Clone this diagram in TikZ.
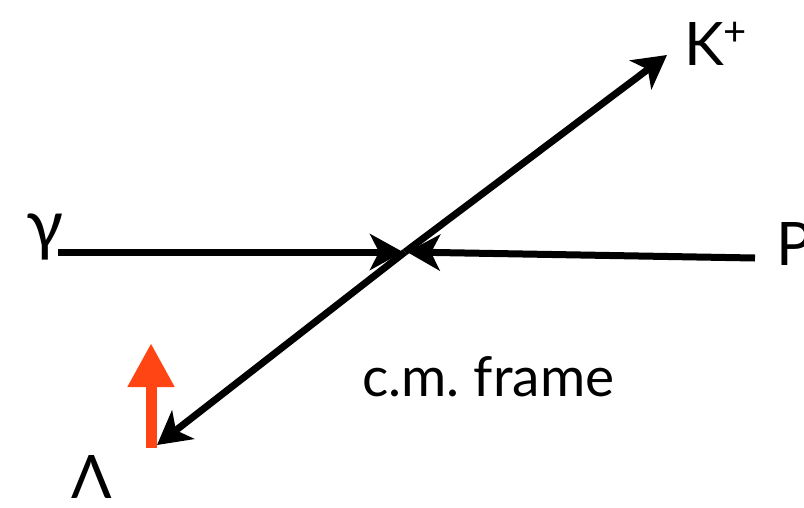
\documentclass[tikz,border=0pt]{standalone}
\usepackage{fontspec}
\setmainfont{Lato}
\usetikzlibrary{arrows.meta}
\definecolor{spinred}{RGB}{255,69,20}
\tikzset{
  lbl/.style={anchor=base west, inner sep=0pt, font=\fontsize{60}{60}\selectfont},
  track/.style={line width=7pt, -{Stealth[length=33pt, width=36pt, inset=9pt]}},
  spin/.style={draw=spinred, line width=11pt, -{Triangle[length=44pt, width=44pt]}, color=spinred}
}
\begin{document}
\begin{tikzpicture}[x=1pt, y=-1pt]
\useasboundingbox (0,0) rectangle (804,507);
% labels
\node[lbl, font=\fontsize{68}{68}\selectfont] (gamma) at (26,248) {γ};
\node[lbl] (p) at (776,265) {P};
\node[lbl] (kplus) at (684,65) {K\raisebox{0.33em}{\fontsize{40}{40}\selectfont +}};
\node[lbl] (lambda) at (71,498) {Λ};
\node[anchor=base west, inner sep=0pt, font=\fontsize{55}{55}\selectfont] (frame) at (362,396) {c.m.\ frame};
% coordinates
\coordinate (c) at (405,252);
\coordinate (gin) at (58,252);
\coordinate (gtip) at (403,252);
\coordinate (pin) at (755,258);
\coordinate (ptip) at (407,252);
\coordinate (ktip) at (667,55);
\coordinate (ltip) at (157,445);
\coordinate (sbot) at (151,448);
\coordinate (stop) at (151,343);
% tracks
\draw[track] (gin) -- (gtip);
\draw[track] (pin) -- (ptip);
\draw[track] (c) -- (ktip);
\draw[track] (c) -- (ltip);
% spin
\draw[spin] (sbot) -- (stop);
\end{tikzpicture}
\end{document}
